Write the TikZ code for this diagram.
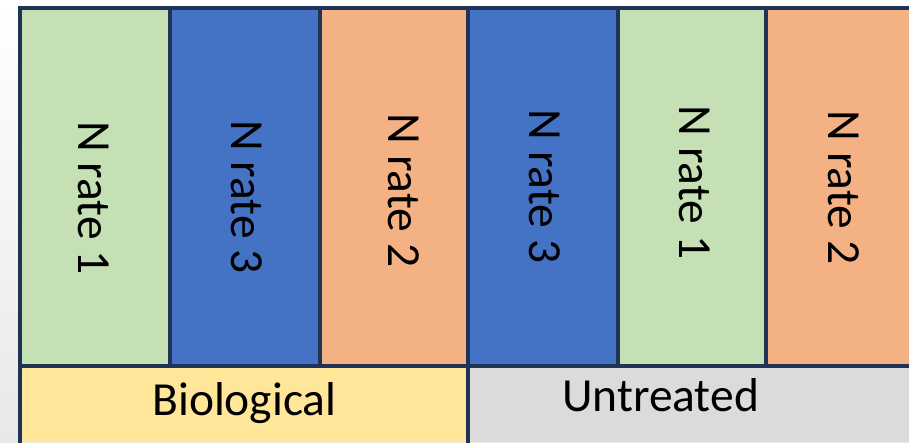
\documentclass[tikz,border=0pt]{standalone}
\usepackage{fontspec}
\setmainfont{Carlito}
\definecolor{cgreen}{HTML}{C5E0B4}
\definecolor{cblue}{HTML}{4472C4}
\definecolor{corange}{HTML}{F4B183}
\definecolor{cyellow}{HTML}{FFE699}
\definecolor{cgray}{HTML}{DBDBDB}
\definecolor{cedge}{HTML}{1F3357}
\tikzset{
  plotcell/.style={fill=#1, draw=none},
  ratelabel/.style={rotate=-90, inner sep=0pt, anchor=center,
    font=\fontsize{47.5}{57}\selectfont, text=black},
  grouplabel/.style={inner sep=0pt, anchor=base,
    font=\fontsize{47.5}{57}\selectfont, text=black},
  gridline/.style={draw=cedge, line width=3.3pt}
}
\begin{document}
\begin{tikzpicture}[x=1pt, y=-1pt]
  % page background
  \shade[top color=white, bottom color=black!9] (0,0) rectangle (909,442);
  \useasboundingbox (0,0) rectangle (909,442);
  % treatment strips
  \path[plotcell=cgreen]  (20,8) rectangle (170,366);
  \path[plotcell=cblue]   (170,8) rectangle (320,366);
  \path[plotcell=corange] (320,8) rectangle (468,366);
  \path[plotcell=cblue]   (468,8) rectangle (618,366);
  \path[plotcell=cgreen]  (618,8) rectangle (766,366);
  \path[plotcell=corange] (766,8) rectangle (909,366);
  % main plots
  \path[plotcell=cyellow] (20,366) rectangle (468,442);
  \path[plotcell=cgray]   (468,366) rectangle (909,442);
  % grid
  \draw[gridline] (20,443) -- (20,8) -- (910,8);
  \draw[gridline] (20,366) -- (910,366);
  \foreach \xx in {170,320,618,766} \draw[gridline] (\xx,8) -- (\xx,366);
  \draw[gridline] (468,8) -- (468,443);
  % labels
  \node[ratelabel] (r1) at (94,198) {N rate 1};
  \node[ratelabel] (r2) at (247,197) {N rate 3};
  \node[ratelabel] (r3) at (404,190.5) {N rate 2};
  \node[ratelabel] (r4) at (545,186.5) {N rate 3};
  \node[ratelabel] (r5) at (695,182.5) {N rate 1};
  \node[ratelabel] (r6) at (844,187.5) {N rate 2};
  \node[grouplabel] (bio) at (244.5,415) {Biological};
  \node[grouplabel] (unt) at (660.5,411) {Untreated};
\end{tikzpicture}
\end{document}
